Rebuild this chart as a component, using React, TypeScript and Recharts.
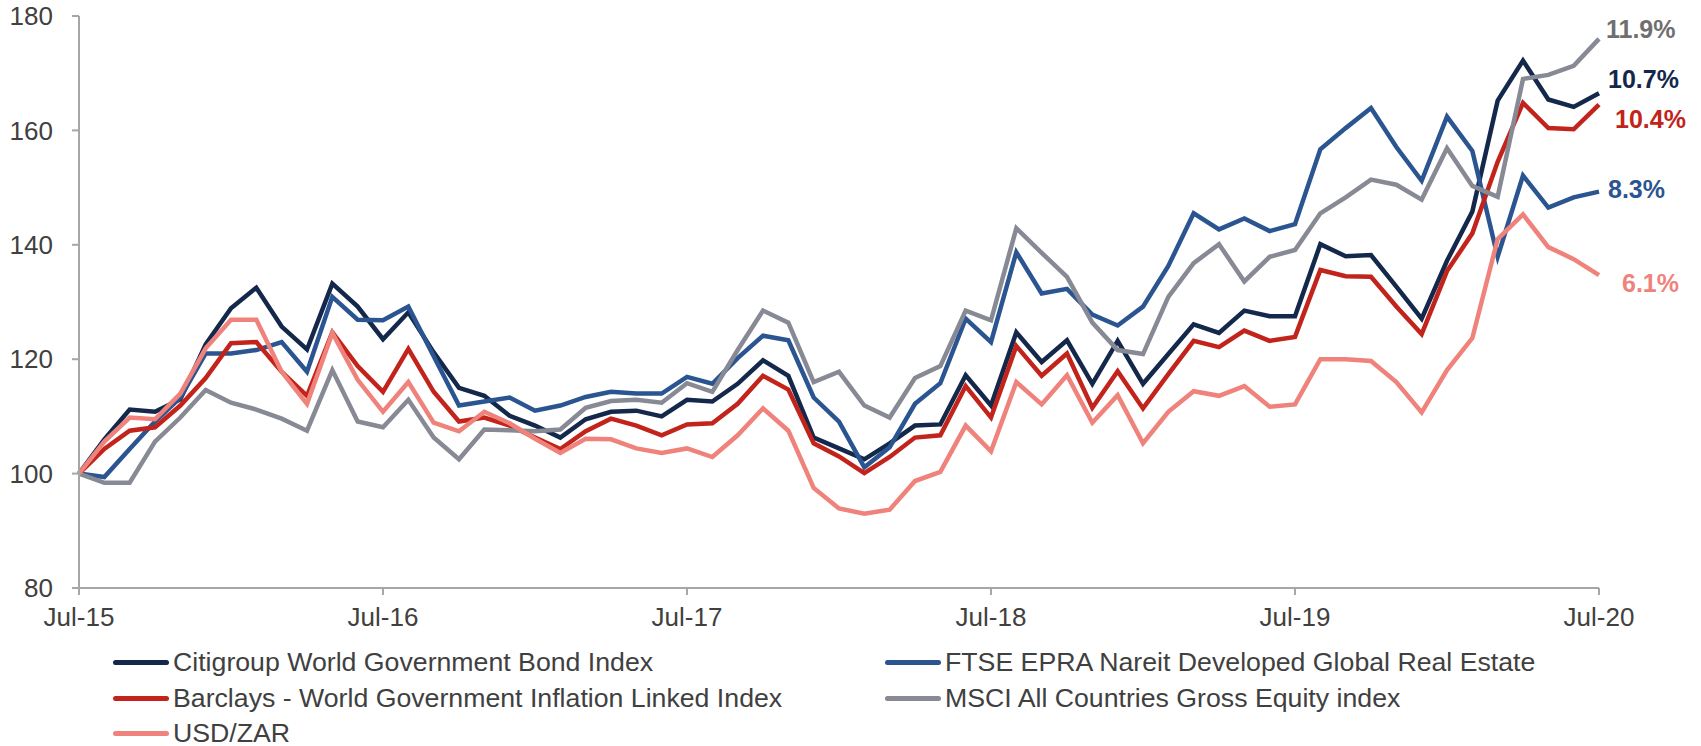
import React from 'react';
import { LineChart, Line, XAxis, YAxis, Legend, LabelList } from 'recharts';

// month index 0 = Jul-15 ... 60 = Jul-20
const tickLabels = ['Jul-15', 'Jul-16', 'Jul-17', 'Jul-18', 'Jul-19', 'Jul-20'];
const yTicks = [80, 100, 120, 140, 160, 180];

const citigroup = [
  100, 106.0, 111.2, 110.8, 113.0, 122.6, 128.9, 132.5, 125.7, 121.7, 133.2, 129.2, 123.5,
  128.2, 121.2, 115.0, 113.6, 110.1, 108.4, 106.3, 109.5, 110.8, 111.0, 110.0, 112.9, 112.6,
  115.7, 119.8, 117.1, 106.3, 104.4, 102.5, 105.3, 108.4, 108.6, 117.2, 111.9, 124.7, 119.5,
  123.3, 115.7, 123.2, 115.7, 120.9, 126.1, 124.6, 128.5, 127.5, 127.5, 140.1, 138.0, 138.2,
  132.7, 127.1, 137.2, 145.8, 165.2, 172.2, 165.4, 164.1, 166.5
];
const ftse = [
  100, 99.4, 104.3, 109.1, 113.3, 121.0, 121.0, 121.6, 123.0, 117.8, 130.9, 126.9, 126.8,
  129.2, 120.5, 111.9, 112.6, 113.3, 111.0, 111.9, 113.4, 114.3, 114.0, 114.0, 116.9, 115.7,
  120.2, 124.1, 123.3, 113.3, 109.1, 101.1, 104.6, 112.2, 115.8, 127.1, 123.0, 138.7, 131.5,
  132.3, 127.8, 125.9, 129.2, 136.3, 145.5, 142.7, 144.6, 142.4, 143.6, 156.7, 160.4, 163.9,
  157.1, 151.2, 162.4, 156.4, 137.9, 152.1, 146.5, 148.3, 149.3
];
const barclays = [
  100, 104.3, 107.5, 108.1, 111.9, 116.7, 122.8, 123.0, 117.8, 113.6, 124.7, 118.8, 114.3,
  121.8, 114.3, 109.1, 109.8, 108.4, 106.3, 104.3, 107.4, 109.6, 108.4, 106.7, 108.6, 108.8,
  112.2, 117.1, 114.7, 105.3, 103.0, 100.1, 102.9, 106.3, 106.7, 115.3, 109.8, 122.3, 117.1,
  121.0, 111.5, 117.9, 111.4, 117.4, 123.2, 122.1, 125.0, 123.2, 123.9, 135.6, 134.5, 134.4,
  129.2, 124.4, 135.4, 142.0, 154.5, 164.8, 160.4, 160.2, 164.5
];
const msci = [
  100, 98.4, 98.4, 105.6, 109.8, 114.6, 112.4, 111.2, 109.6, 107.5, 118.1, 109.1, 108.1,
  112.9, 106.3, 102.5, 107.7, 107.6, 107.4, 107.7, 111.5, 112.7, 112.9, 112.4, 115.8, 114.3,
  121.6, 128.5, 126.4, 116.0, 117.8, 111.9, 109.8, 116.7, 118.8, 128.5, 126.8, 142.9, 138.6,
  134.4, 126.4, 121.6, 120.9, 130.9, 136.8, 140.1, 133.6, 137.9, 139.1, 145.5, 148.3, 151.4,
  150.5, 147.9, 156.9, 150.3, 148.4, 169.0, 169.7, 171.3, 176.0
];
const usdzar = [
  100, 105.6, 109.8, 109.5, 114.0, 121.9, 126.9, 126.9, 117.8, 112.2, 124.6, 116.4, 110.8,
  116.0, 108.9, 107.4, 110.8, 108.8, 106.1, 103.6, 106.1, 106.0, 104.4, 103.6, 104.4, 102.9,
  106.7, 111.4, 107.5, 97.5, 93.9, 93.0, 93.7, 98.7, 100.3, 108.4, 103.9, 116.0, 112.1,
  117.2, 108.9, 113.7, 105.3, 110.8, 114.4, 113.6, 115.3, 111.7, 112.1, 120.0, 120.0, 119.7,
  116.0, 110.7, 118.1, 123.7, 141.0, 145.3, 139.6, 137.5, 134.7
];

const data = citigroup.map((v, i) => ({
  month: i,
  citigroup: v,
  ftse: ftse[i],
  barclays: barclays[i],
  msci: msci[i],
  usdzar: usdzar[i]
}));

const FONT = '"Liberation Sans", Arial, sans-serif';
const TEXT = '#404040';
const AXIS = '#a6a6a6';

const series = [
  { key: 'citigroup', name: 'Citigroup World Government Bond Index', color: '#13284a', end: '10.7%', labelColor: '#13284a', dx: 9, dy: -14 },
  { key: 'ftse', name: 'FTSE EPRA Nareit Developed Global Real Estate', color: '#2b5590', end: '8.3%', labelColor: '#2b5590', dx: 9, dy: -3 },
  { key: 'barclays', name: 'Barclays - World Government Inflation Linked Index', color: '#c2231b', end: '10.4%', labelColor: '#c2231b', dx: 16, dy: 14 },
  { key: 'msci', name: 'MSCI All Countries Gross Equity index', color: '#878a94', end: '11.9%', labelColor: '#6f6f6f', dx: 7, dy: -10 },
  { key: 'usdzar', name: 'USD/ZAR', color: '#ef837c', end: '6.1%', labelColor: '#ef837c', dx: 23, dy: 8 }
];

const endLabel = (text: string, color: string, dx: number, dy: number) => (props: any) => {
  if (props.index !== data.length - 1) return <g />;
  const x = props.x ?? props.viewBox?.x;
  const y = props.y ?? props.viewBox?.y;
  return (
    <text
      x={x + dx}
      y={y + dy}
      dominantBaseline="central"
      fontFamily={FONT}
      fontSize={25}
      fontWeight="bold"
      fill={color}
    >
      {text}
    </text>
  );
};

const LegendContent = () => (
  <div
    style={{
      display: 'grid',
      gridTemplateColumns: '772px 700px',
      paddingLeft: 113,
      fontFamily: FONT,
      fontSize: 26.7,
      color: TEXT
    }}
  >
    {series.map((s) => (
      <div key={s.key} style={{ display: 'flex', alignItems: 'center', height: 35.5, whiteSpace: 'nowrap' }}>
        <span
          style={{
            display: 'inline-block',
            width: 56,
            height: 5,
            borderRadius: 3,
            background: s.color,
            marginRight: 4
          }}
        />
        {s.name}
      </div>
    ))}
  </div>
);

export default function App() {
  return (
    <div style={{ position: 'absolute', left: 0, top: 0, width: 1701, height: 746, background: '#fff' }}>
      <LineChart
        width={1701}
        height={746}
        data={data}
        margin={{ top: 16, right: 102, left: 0, bottom: 118 }}
      >
        <XAxis
          dataKey="month"
          type="number"
          domain={[0, 60]}
          ticks={[0, 12, 24, 36, 48, 60]}
          tickFormatter={(v: number) => tickLabels[v / 12]}
          height={40}
          stroke={AXIS}
          strokeWidth={2}
          tickSize={7}
          tickMargin={13}
          tick={{ fill: TEXT, fontSize: 26, fontFamily: FONT }}
        />
        <YAxis
          type="number"
          domain={[80, 180]}
          ticks={yTicks}
          width={79}
          stroke={AXIS}
          strokeWidth={2}
          tickSize={7}
          tickMargin={19}
          tick={{ fill: TEXT, fontSize: 26, fontFamily: FONT }}
        />
        <Legend
          verticalAlign="middle"
          align="center"
          layout="horizontal"
          wrapperStyle={{ left: 0, top: 645, width: 1701 }}
          content={<LegendContent />}
        />
        {series.map((s) => (
          <Line
            key={s.key}
            type="linear"
            dataKey={s.key}
            name={s.name}
            stroke={s.color}
            strokeWidth={4.5}
            dot={false}
            activeDot={false}
            isAnimationActive={false}
          >
            <LabelList dataKey={s.key} content={endLabel(s.end, s.labelColor, s.dx, s.dy)} />
          </Line>
        ))}
      </LineChart>
    </div>
  );
}
